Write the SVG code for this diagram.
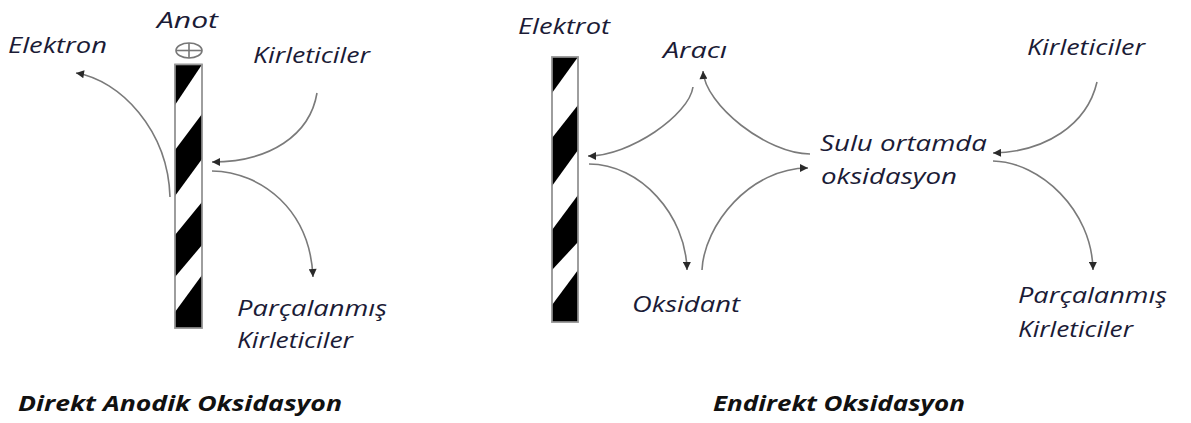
<svg xmlns="http://www.w3.org/2000/svg" width="1191" height="423" viewBox="0 0 1191 423">
<style>
.t{font-family:"Open Sans",Lato,"Liberation Sans",sans-serif;font-style:italic;font-size:22px;fill:#1b1b36;font-variant-ligatures:none}
.b{font-weight:bold;fill:#111}
.el{fill:#fff;stroke:#9a9a9a;stroke-width:1.6}
.st{fill:#000}
.c{fill:none;stroke:#7a7a7a;stroke-width:1.6;marker-end:url(#ah)}
</style>
<defs>
<marker id="ah" viewBox="0 0 10 10" refX="10" refY="5" markerUnits="userSpaceOnUse" markerWidth="10" markerHeight="8" orient="auto">
<path d="M0,0 L10,5 L0,10 z" fill="#2a2a2a"/>
</marker>
</defs>
<rect width="1191" height="423" fill="#fff"/>

<g id="anode">
<rect class="el" x="175" y="64.5" width="27" height="263.5"/>
<polygon class="st" points="175,64.5 202,64.5 175,105"/>
<polygon class="st" points="202,114 202,159 175,196 175,150"/>
<polygon class="st" points="202,202 202,245 175,277 175,235"/>
<polygon class="st" points="202,275 202,328 175,328 175,312"/>
<rect x="175" y="64.5" width="27" height="263.5" fill="none" stroke="#9a9a9a" stroke-width="1.6"/>
<ellipse cx="189" cy="50.5" rx="13" ry="7.5" fill="none" stroke="#777" stroke-width="1.6"/>
<line x1="176" y1="50.5" x2="202" y2="50.5" stroke="#777" stroke-width="1.6"/>
<line x1="189" y1="43" x2="189" y2="58" stroke="#777" stroke-width="1.6"/>
</g>

<g id="electrode">
<rect class="el" x="552" y="57" width="26" height="265"/>
<polygon class="st" points="552,57 578,57 552,93"/>
<polygon class="st" points="578,105 578,150 552,186 552,138"/>
<polygon class="st" points="578,195 578,242 552,270 552,230"/>
<polygon class="st" points="578,270 578,322 552,322 552,305"/>
<rect x="552" y="57" width="26" height="265" fill="none" stroke="#9a9a9a" stroke-width="1.6"/>
</g>

<g id="connectors">
<path class="c" d="M170,197 C168,130 120,80 76,73"/>
<path class="c" d="M317,93 C310,135 270,162 212,162"/>
<path class="c" d="M212,171 C262,172 310,210 313,277"/>
<path class="c" d="M693,87 C689,115 630,156 588,156"/>
<path class="c" d="M589,164 C640,164 686,215 687,270"/>
<path class="c" d="M702,270 C704,225 750,168 808,168"/>
<path class="c" d="M810,154 C767,154 705,105 703,71"/>
<path class="c" d="M1097,82 C1087,125 1045,152 993,153"/>
<path class="c" d="M993,161 C1040,162 1092,210 1093,270"/>
</g>

<g id="label-elektron"><text class="t" x="8" y="53" textLength="99" lengthAdjust="spacingAndGlyphs">Elektron</text></g>
<g id="label-anot"><text class="t" x="157" y="27.5" textLength="61" lengthAdjust="spacingAndGlyphs">Anot</text></g>
<g id="label-kirleticiler-1"><text class="t" x="253" y="63" textLength="117" lengthAdjust="spacingAndGlyphs">Kirleticiler</text></g>
<g id="label-parcalanmis-1">
<text class="t" x="237" y="316" textLength="150" lengthAdjust="spacingAndGlyphs">Parçalanmış</text>
<text class="t" x="237" y="348" textLength="116" lengthAdjust="spacingAndGlyphs">Kirleticiler</text>
</g>
<g id="caption-direkt"><text class="t b" x="18" y="411" textLength="324" lengthAdjust="spacingAndGlyphs">Direkt Anodik Oksidasyon</text></g>

<g id="label-elektrot"><text class="t" x="518" y="34" textLength="92" lengthAdjust="spacingAndGlyphs">Elektrot</text></g>
<g id="label-araci"><text class="t" x="663" y="58" textLength="64" lengthAdjust="spacingAndGlyphs">Aracı</text></g>
<g id="label-sulu">
<text class="t" x="820" y="151" textLength="167" lengthAdjust="spacingAndGlyphs">Sulu ortamda</text>
<text class="t" x="821" y="184" textLength="136" lengthAdjust="spacingAndGlyphs">oksidasyon</text>
</g>
<g id="label-oksidant"><text class="t" x="632" y="312" textLength="108" lengthAdjust="spacingAndGlyphs">Oksidant</text></g>
<g id="label-kirleticiler-2"><text class="t" x="1027" y="55" textLength="118" lengthAdjust="spacingAndGlyphs">Kirleticiler</text></g>
<g id="label-parcalanmis-2">
<text class="t" x="1018" y="303" textLength="149" lengthAdjust="spacingAndGlyphs">Parçalanmış</text>
<text class="t" x="1018" y="337" textLength="115" lengthAdjust="spacingAndGlyphs">Kirleticiler</text>
</g>
<g id="caption-endirekt"><text class="t b" x="713" y="411" textLength="252" lengthAdjust="spacingAndGlyphs">Endirekt Oksidasyon</text></g>
</svg>
